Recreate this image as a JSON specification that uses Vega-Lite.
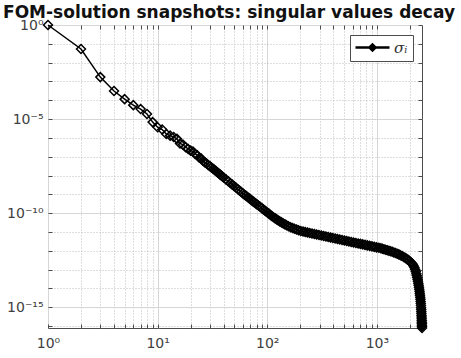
{
  "$schema": "https://vega.github.io/schema/vega-lite/v6.json",
  "autosize": {"type": "none"},
  "width": 374,
  "height": 303,
  "padding": {"left": 48, "top": 25, "right": 39, "bottom": 30},
  "title": {
    "text": "FOM-solution snapshots: singular values decay",
    "font": "DejaVu Sans",
    "fontSize": 17,
    "fontWeight": "bold",
    "color": "#111111",
    "anchor": "middle",
    "frame": "group",
    "baseline": "alphabetic",
    "offset": -17,
    "dx": -6
  },
  "config": {
    "view": {"stroke": "#4d4d4d", "strokeWidth": 1},
    "font": "DejaVu Sans"
  },
  "layer": [
    {
      "data": {
        "values": [
          {"k": 1, "s": 1}, {"k": 2, "s": 0.053}, {"k": 3, "s": 1.7e-3}, {"k": 4, "s": 3.1e-4},
          {"k": 5, "s": 1.15e-4}, {"k": 6, "s": 5.5e-5}, {"k": 7, "s": 3.4e-5}, {"k": 8, "s": 1.86e-5},
          {"k": 9, "s": 6.9e-6}, {"k": 10, "s": 3.7e-6}, {"k": 11, "s": 2.8e-6}, {"k": 12, "s": 1.6e-6},
          {"k": 13, "s": 1.32e-6}, {"k": 14, "s": 1.12e-6}, {"k": 15, "s": 8.9e-7}, {"k": 16, "s": 5.0e-7},
          {"k": 17, "s": 4.4e-7}, {"k": 18, "s": 3.2e-7}, {"k": 19, "s": 2.6e-7}, {"k": 20, "s": 2.1e-7},
          {"k": 21, "s": 1.9e-7}, {"k": 22, "s": 1.4e-7}, {"k": 23, "s": 1.2e-7}, {"k": 24, "s": 8.9e-8},
          {"k": 25, "s": 7.9e-8}, {"k": 26, "s": 6.0e-8}, {"k": 27, "s": 5.0e-8}, {"k": 28, "s": 4.4e-8},
          {"k": 29, "s": 3.5e-8}, {"k": 30, "s": 3.16e-8}, {"k": 31, "s": 2.7e-8}, {"k": 32, "s": 2.32e-8},
          {"k": 33, "s": 2.0e-8}, {"k": 34, "s": 1.73e-8}, {"k": 35, "s": 1.5e-8}, {"k": 36, "s": 1.31e-8},
          {"k": 37, "s": 1.15e-8}, {"k": 38, "s": 1.01e-8}, {"k": 39, "s": 8.9e-9}, {"k": 40, "s": 7.9e-9},
          {"k": 42, "s": 6.25e-9}, {"k": 44, "s": 4.99e-9}, {"k": 46, "s": 4.03e-9}, {"k": 48, "s": 3.28e-9},
          {"k": 50, "s": 2.69e-9}, {"k": 52, "s": 2.23e-9}, {"k": 54, "s": 1.86e-9}, {"k": 56, "s": 1.56e-9},
          {"k": 58, "s": 1.32e-9}, {"k": 60, "s": 1.12e-9}, {"k": 62, "s": 9.6e-10}, {"k": 64, "s": 8.35e-10},
          {"k": 66, "s": 7.26e-10}, {"k": 68, "s": 6.34e-10}, {"k": 70, "s": 5.56e-10}, {"k": 72, "s": 4.89e-10},
          {"k": 74, "s": 4.31e-10}, {"k": 76, "s": 3.82e-10}, {"k": 78, "s": 3.4e-10}, {"k": 80, "s": 3.03e-10},
          {"k": 83, "s": 2.56e-10}, {"k": 86, "s": 2.18e-10}, {"k": 89, "s": 1.86e-10}, {"k": 92, "s": 1.6e-10},
          {"k": 95, "s": 1.38e-10}, {"k": 98, "s": 1.2e-10}, {"k": 101, "s": 1.05e-10}, {"k": 104, "s": 9.2e-11},
          {"k": 107, "s": 8.05e-11}, {"k": 110, "s": 7.1e-11}, {"k": 114, "s": 6.04e-11}, {"k": 118, "s": 5.3e-11},
          {"k": 122, "s": 4.68e-11}, {"k": 126, "s": 4.12e-11}, {"k": 130, "s": 3.67e-11}, {"k": 135, "s": 3.24e-11},
          {"k": 140, "s": 2.85e-11}, {"k": 145, "s": 2.54e-11}, {"k": 150, "s": 2.29e-11}, {"k": 156, "s": 2.04e-11},
          {"k": 163, "s": 1.8e-11}, {"k": 170, "s": 1.62e-11}, {"k": 177, "s": 1.48e-11}, {"k": 185, "s": 1.35e-11},
          {"k": 193, "s": 1.23e-11}, {"k": 202, "s": 1.135e-11}, {"k": 212, "s": 1.05e-11}, {"k": 222, "s": 9.9e-12},
          {"k": 233, "s": 9.3e-12}, {"k": 244, "s": 8.79e-12}, {"k": 256, "s": 8.28e-12}, {"k": 269, "s": 7.8e-12},
          {"k": 282, "s": 7.35e-12}, {"k": 296, "s": 6.9e-12}, {"k": 311, "s": 6.5e-12}, {"k": 327, "s": 6.12e-12},
          {"k": 343, "s": 5.75e-12}, {"k": 360, "s": 5.42e-12}, {"k": 378, "s": 5.1e-12}, {"k": 396, "s": 4.81e-12},
          {"k": 416, "s": 4.53e-12}, {"k": 437, "s": 4.26e-12}, {"k": 458, "s": 4.01e-12}, {"k": 481, "s": 3.78e-12},
          {"k": 505, "s": 3.56e-12}, {"k": 530, "s": 3.34e-12}, {"k": 556, "s": 3.15e-12}, {"k": 583, "s": 2.96e-12},
          {"k": 612, "s": 2.79e-12}, {"k": 643, "s": 2.62e-12}, {"k": 675, "s": 2.47e-12}, {"k": 708, "s": 2.33e-12},
          {"k": 743, "s": 2.19e-12}, {"k": 780, "s": 2.06e-12}, {"k": 818, "s": 1.94e-12}, {"k": 859, "s": 1.83e-12},
          {"k": 902, "s": 1.72e-12}, {"k": 946, "s": 1.62e-12}, {"k": 993, "s": 1.52e-12}, {"k": 1042, "s": 1.44e-12},
          {"k": 1087, "s": 1.36e-12}, {"k": 1122, "s": 1.29e-12}, {"k": 1161, "s": 1.22e-12}, {"k": 1202, "s": 1.15e-12},
          {"k": 1245, "s": 1.08e-12}, {"k": 1288, "s": 1.01e-12}, {"k": 1334, "s": 9.44e-13}, {"k": 1380, "s": 8.81e-13},
          {"k": 1429, "s": 8.18e-13}, {"k": 1479, "s": 7.59e-13}, {"k": 1531, "s": 7.0e-13}, {"k": 1585, "s": 6.46e-13},
          {"k": 1641, "s": 5.82e-13}, {"k": 1698, "s": 5.25e-13}, {"k": 1758, "s": 4.68e-13}, {"k": 1820, "s": 4.12e-13},
          {"k": 1871, "s": 3.72e-13}, {"k": 1923, "s": 3.31e-13}, {"k": 1977, "s": 2.92e-13}, {"k": 2032, "s": 2.54e-13},
          {"k": 2080, "s": 2.21e-13}, {"k": 2123, "s": 1.91e-13}, {"k": 2163, "s": 1.58e-13}, {"k": 2198, "s": 1.29e-13},
          {"k": 2234, "s": 1.02e-13}, {"k": 2265, "s": 7.9e-14}, {"k": 2290, "s": 6.0e-14}, {"k": 2310, "s": 4.8e-14},
          {"k": 2330, "s": 3.8e-14}, {"k": 2350, "s": 3.0e-14}, {"k": 2370, "s": 2.34e-14}, {"k": 2390, "s": 1.82e-14},
          {"k": 2405, "s": 1.48e-14}, {"k": 2420, "s": 1.17e-14}, {"k": 2435, "s": 9.1e-15}, {"k": 2450, "s": 7.1e-15},
          {"k": 2462, "s": 5.6e-15}, {"k": 2474, "s": 4.4e-15}, {"k": 2486, "s": 3.4e-15}, {"k": 2497, "s": 2.63e-15},
          {"k": 2507, "s": 2.04e-15}, {"k": 2516, "s": 1.58e-15}, {"k": 2524, "s": 1.23e-15}, {"k": 2531, "s": 9.5e-16},
          {"k": 2537, "s": 7.6e-16}, {"k": 2543, "s": 6.0e-16}, {"k": 2548, "s": 4.8e-16}, {"k": 2553, "s": 3.8e-16},
          {"k": 2558, "s": 3.0e-16}, {"k": 2562, "s": 2.45e-16}, {"k": 2566, "s": 2.0e-16}, {"k": 2570, "s": 1.62e-16},
          {"k": 2573, "s": 1.35e-16}, {"k": 2576, "s": 1.12e-16}, {"k": 2578, "s": 9.5e-17}, {"k": 2580, "s": 7.9e-17}
        ]
      },
      "mark": {
        "type": "line",
        "strokeWidth": 1.5,
        "point": {"shape": "diamond", "filled": false, "size": 80, "strokeWidth": 1.5}
      },
      "encoding": {
        "x": {
          "field": "k",
          "type": "quantitative",
          "scale": {"type": "log", "domain": [1, 2580], "nice": false},
          "axis": {
            "orient": "bottom",
            "title": null,
            "values": [1, 2, 3, 4, 5, 6, 7, 8, 9, 10, 20, 30, 40, 50, 60, 70, 80, 90, 100, 200, 300, 400, 500, 600, 700, 800, 900, 1000, 2000],
            "labelExpr": "datum.value == 1 ? '10⁰' : datum.value == 10 ? '10¹' : datum.value == 100 ? '10²' : datum.value == 1000 ? '10³' : ''",
            "labelFont": "DejaVu Sans",
            "labelFontSize": 14,
            "labelColor": "#404040",
            "labelPadding": 12,
            "labelFlush": false,
            "labelOverlap": false,
            "domain": false,
            "tickSize": -4,
            "tickColor": "#4d4d4d",
            "grid": true,
            "gridColor": {"condition": {"test": "abs(log(datum.value)/LN10 - round(log(datum.value)/LN10)) < 0.001", "value": "#d6d6d6"}, "value": "#bdbdbd"},
            "gridDash": {"condition": {"test": "abs(log(datum.value)/LN10 - round(log(datum.value)/LN10)) < 0.001", "value": []}, "value": [1, 2]}
          }
        },
        "y": {
          "field": "s",
          "type": "quantitative",
          "scale": {"type": "log", "domain": [7.9e-17, 1], "nice": false},
          "axis": {
            "orient": "left",
            "title": null,
            "values": [1, 1e-1, 1e-2, 1e-3, 1e-4, 1e-5, 1e-6, 1e-7, 1e-8, 1e-9, 1e-10, 1e-11, 1e-12, 1e-13, 1e-14, 1e-15, 1e-16],
            "labelExpr": "round(log(datum.value)/LN10) == 0 ? '10⁰' : round(log(datum.value)/LN10) == -5 ? '10⁻⁵' : round(log(datum.value)/LN10) == -10 ? '10⁻¹⁰' : round(log(datum.value)/LN10) == -15 ? '10⁻¹⁵' : ''",
            "labelFont": "DejaVu Sans",
            "labelFontSize": 14,
            "labelColor": "#404040",
            "labelPadding": 9,
            "labelFlush": false,
            "labelOverlap": false,
            "domain": false,
            "tickSize": -4,
            "tickColor": "#4d4d4d",
            "grid": true,
            "gridColor": {"condition": {"test": "abs(round(log(datum.value)/LN10) % 5) == 0", "value": "#d6d6d6"}, "value": "#bdbdbd"},
            "gridDash": {"condition": {"test": "abs(round(log(datum.value)/LN10) % 5) == 0", "value": []}, "value": [1, 2]}
          }
        },
        "color": {
          "datum": "σᵢ",
          "type": "nominal",
          "scale": {"range": ["#000000"]},
          "legend": {
            "orient": "none",
            "legendX": 302,
            "legendY": 10,
            "title": null,
            "symbolType": "M-3.4,0L3.4,0M-0.6,0L0,-0.6L0.6,0L0,0.6Z",
            "symbolSize": 100,
            "symbolStrokeWidth": 2.5,
            "symbolStrokeColor": "#000000",
            "symbolFillColor": "transparent",
            "symbolOffset": 10,
            "labelOffset": 14,
            "labelFont": "DejaVu Serif",
            "labelFontStyle": "italic",
            "labelFontSize": 15,
            "labelColor": "#333333",
            "strokeColor": "#4d4d4d",
            "fillColor": "#ffffff",
            "padding": 5
          }
        }
      }
    },
    {
      "data": {"values": [{"k": 1, "s": 1}]},
      "mark": {"type": "point", "opacity": 0},
      "encoding": {
        "x": {
          "field": "k",
          "type": "quantitative",
          "axis": {
            "orient": "top",
            "title": null,
            "labels": false,
            "domain": false,
            "grid": false,
            "values": [1, 2, 3, 4, 5, 6, 7, 8, 9, 10, 20, 30, 40, 50, 60, 70, 80, 90, 100, 200, 300, 400, 500, 600, 700, 800, 900, 1000, 2000],
            "tickColor": "#4d4d4d",
            "tickSize": -4
          }
        },
        "y": {
          "field": "s",
          "type": "quantitative",
          "axis": {
            "orient": "right",
            "title": null,
            "labels": false,
            "domain": false,
            "grid": false,
            "values": [1, 1e-1, 1e-2, 1e-3, 1e-4, 1e-5, 1e-6, 1e-7, 1e-8, 1e-9, 1e-10, 1e-11, 1e-12, 1e-13, 1e-14, 1e-15, 1e-16],
            "tickColor": "#4d4d4d",
            "tickSize": -4
          }
        }
      }
    }
  ],
  "resolve": {"axis": {"x": "independent", "y": "independent"}}
}
